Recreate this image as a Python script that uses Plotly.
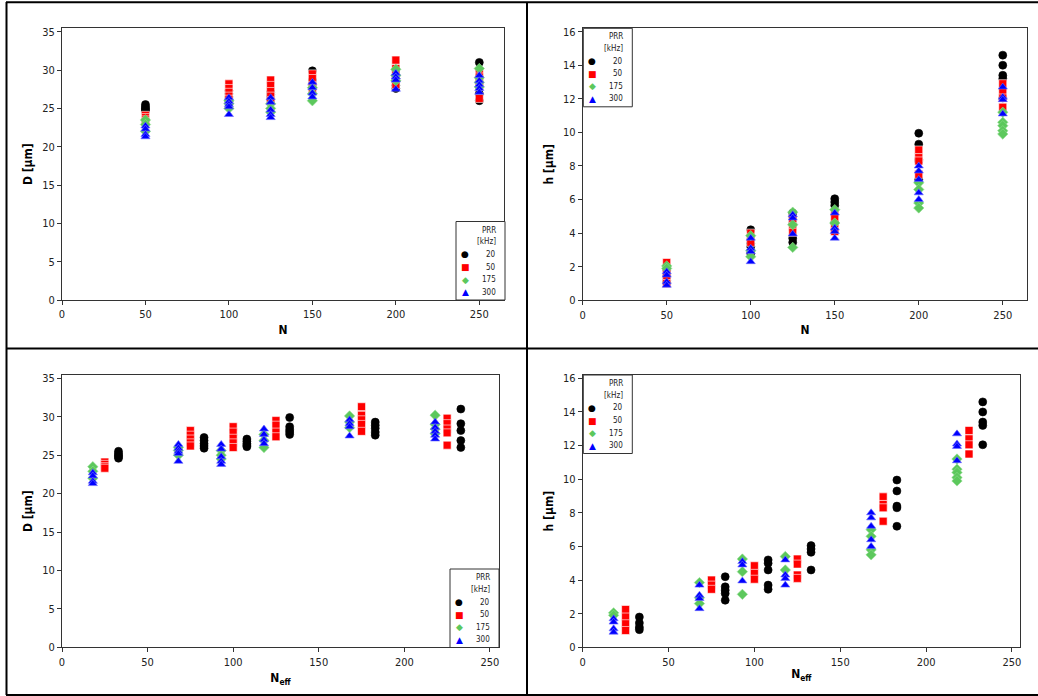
import plotly.graph_objects as go

# ---------------------------------------------------------------------------
# Measured crater diameter D and depth h versus pulse number N (and the
# effective pulse number N_eff) for four pulse repetition rates (PRR, kHz).
# Each inner list holds the repeated measurements at one N.
# ---------------------------------------------------------------------------
N_VALUES = [50, 100, 125, 150, 200, 250]
PRR_KHZ = [20, 50, 175, 300]

NEFF_20 = [33, 83, 108, 133, 183, 233]
NEFF_50 = [25, 75, 100, 125, 175, 225]
NEFF_175 = [18, 68, 93, 118, 168, 218]
NEFF_300 = [18, 68, 93, 118, 168, 218]

D_20 = [
    [25.5, 25.2, 25.0, 24.8, 24.6],
    [27.3, 26.9, 26.5, 26.2, 25.9],
    [27.1, 26.8, 26.5, 26.3, 26.1],
    [29.9, 28.7, 28.3, 28.0, 27.7],
    [29.3, 28.9, 28.5, 28.0, 27.6],
    [31.0, 29.1, 28.2, 26.9, 26.0],
]
D_50 = [
    [24.1, 23.8, 23.5, 23.3],
    [28.2, 27.6, 27.1, 26.6, 26.2],
    [28.7, 28.0, 27.2, 26.6, 26.0],
    [29.5, 28.9, 28.0, 27.4],
    [31.3, 30.2, 29.6, 29.0, 28.1],
    [29.8, 29.1, 28.4, 27.9, 26.3],
]
D_175 = [
    [23.5, 22.9, 22.0],
    [26.0, 25.6, 25.0],
    [25.6, 25.0, 24.5],
    [27.7, 26.9, 26.0],
    [30.1, 29.3, 28.6],
    [30.2, 29.0, 28.4, 27.8],
]
D_300 = [
    [22.7, 22.3, 21.6, 21.3],
    [26.4, 25.9, 25.5, 25.2, 24.2],
    [26.4, 25.8, 24.8, 24.2, 23.8],
    [28.4, 27.7, 27.0, 26.5],
    [29.6, 29.1, 28.7, 27.5],
    [29.3, 28.6, 28.1, 27.6, 27.1],
]

H_20 = [
    [1.8, 1.45, 1.2, 1.05],
    [4.2, 3.6, 3.4, 3.2, 2.8],
    [5.2, 5.0, 4.6, 3.7, 3.45],
    [6.05, 5.85, 5.65, 4.6],
    [9.95, 9.3, 8.4, 8.3, 7.2],
    [14.6, 14.0, 13.4, 13.2, 12.05],
]
H_50 = [
    [2.25, 1.8, 1.4, 1.0],
    [4.0, 3.7, 3.45],
    [4.85, 4.4, 4.05],
    [5.25, 4.95, 4.3, 4.1],
    [8.95, 8.5, 8.3, 7.5],
    [12.9, 12.4, 12.05, 11.5],
]
H_175 = [
    [2.05, 1.9],
    [3.85, 2.95, 2.6],
    [5.25, 4.5, 3.15],
    [5.4, 4.6],
    [7.0, 6.6, 5.8, 5.5],
    [11.2, 10.6, 10.4, 10.1, 9.9],
]
H_300 = [
    [1.7, 1.5, 1.1, 0.9],
    [3.7, 3.1, 2.9, 2.3],
    [5.1, 4.9, 3.95],
    [5.2, 4.3, 4.1, 3.7],
    [8.0, 7.7, 7.2, 6.4, 6.0],
    [12.7, 12.1, 11.95, 11.1],
]

# ---------------------------------------------------------------------------
# Styling
# ---------------------------------------------------------------------------
W, H = 1038, 696
FONT = "DejaVu Sans Condensed, Liberation Sans, Arial, sans-serif"
TEXT_COLOR = "#222222"

SERIES = [
    dict(prr=PRR_KHZ[0], color="#000000", symbol="circle", glyph="\u25CF",
         neff=NEFF_20, d=D_20, h=H_20, line="#000000"),
    dict(prr=PRR_KHZ[1], color="#ff0000", symbol="square", glyph="\u25A0",
         neff=NEFF_50, d=D_50, h=H_50, line="#ffffff"),
    dict(prr=PRR_KHZ[2], color="#5cc85c", symbol="diamond", glyph="\u25C6",
         neff=NEFF_175, d=D_175, h=H_175, line="#8fdc8f"),
    dict(prr=PRR_KHZ[3], color="#0000ff", symbol="triangle-up", glyph="\u25B2",
         neff=NEFF_300, d=D_300, h=H_300, line="#6f6fff"),
]


def px_x(x):
    return x / W


def px_y(y):
    return 1 - y / H


def expand(positions, groups):
    """Repeat each x position once per measurement in its group."""
    xs, ys = [], []
    for pos, vals in zip(positions, groups):
        xs.extend([pos] * len(vals))
        ys.extend(vals)
    return xs, ys


fig = go.Figure()

# panel id -> (x source, y source)
PANELS = [
    ("", "n", "d"),
    ("2", "n", "h"),
    ("3", "neff", "d"),
    ("4", "neff", "h"),
]

for s in SERIES:
    for ax, xkey, ykey in PANELS:
        positions = N_VALUES if xkey == "n" else s["neff"]
        xs, ys = expand(positions, s[ykey])
        fig.add_trace(go.Scatter(
            x=xs, y=ys, mode="markers",
            name=str(s["prr"]), showlegend=False,
            xaxis="x" + ax, yaxis="y" + ax,
            marker=dict(symbol=s["symbol"], color=s["color"], size=8,
                        line=dict(color=s["line"], width=0.6)),
        ))

# Plot-area boxes in pixels: (left, top, right, bottom)
AREAS = {
    "": (62, 28.3, 504, 300),
    "2": (582.7, 28.3, 1027.3, 300.3),
    "3": (62, 375, 499, 647.3),
    "4": (582.7, 375, 1020, 647.3),
}
X_RANGES = {"": [0, 264.8], "2": [0, 264.6], "3": [0, 255.3], "4": [0, 254.7]}
Y_RANGES = {"": [0, 35.45], "2": [0, 16.2], "3": [0, 35.43], "4": [0, 16.2]}
Y_DTICK = {"": 5, "2": 2, "3": 5, "4": 2}
X_TITLES = {"": "N", "2": "N",
            "3": "N<sub>eff</sub>", "4": "N<sub>eff</sub>"}
Y_TITLES = {"": "D [µm]", "2": "h [µm]",
            "3": "D [µm]", "4": "h [µm]"}
X_STANDOFF = {"": 5, "2": 5, "3": 6, "4": 2}

axis_common = dict(
    showline=True, linecolor="#333333", linewidth=1, mirror=True,
    ticks="outside", ticklen=4, tickcolor="#333333", tickwidth=1,
    showgrid=False, zeroline=False,
    tickfont=dict(family=FONT, size=11, color=TEXT_COLOR),
)
title_font = dict(family=FONT, size=12, color="#000000", weight="bold")

layout_axes = {}
for ax, (l, t, r, b) in AREAS.items():
    layout_axes["xaxis" + ax] = dict(
        axis_common,
        domain=[px_x(l), px_x(r)],
        anchor="y" + ax,
        range=X_RANGES[ax], dtick=50, tick0=0,
        title=dict(text=X_TITLES[ax], standoff=X_STANDOFF[ax], font=title_font),
    )
    layout_axes["yaxis" + ax] = dict(
        axis_common,
        domain=[px_y(b), px_y(t)],
        anchor="x" + ax,
        range=Y_RANGES[ax], dtick=Y_DTICK[ax], tick0=0,
        title=dict(text=Y_TITLES[ax], standoff=6, font=title_font),
    )

fig.update_layout(**layout_axes)

shapes = []
annotations = []

# Legend boxes (left, top) in pixels, each 49 x 78.5
LEGEND_BOXES = [(456, 221.5), (583.3, 28.3), (450, 569), (583.3, 375)]
LEG_W, LEG_H = 49, 78.5
for (bx, by) in LEGEND_BOXES:
    shapes.append(dict(
        type="rect", xref="paper", yref="paper",
        x0=px_x(bx), x1=px_x(bx + LEG_W), y0=px_y(by + LEG_H), y1=px_y(by),
        line=dict(color="#333333", width=1), fillcolor="#ffffff", layer="above",
    ))
    text_right = bx + LEG_W - 7
    for label, dy in (("PRR", 8.5), ("[kHz]", 20.5)):
        annotations.append(dict(
            text=label, xref="paper", yref="paper",
            x=px_x(text_right), y=px_y(by + dy),
            xanchor="right", yanchor="middle", showarrow=False,
            font=dict(family=FONT, size=8, color=TEXT_COLOR),
        ))
    for i, s in enumerate(SERIES):
        dy = 33 + 12.5 * i
        annotations.append(dict(
            text=s["glyph"], xref="paper", yref="paper",
            x=px_x(bx + 9), y=px_y(by + dy),
            xanchor="center", yanchor="middle", showarrow=False,
            font=dict(family="DejaVu Sans", size=9, color=s["color"]),
        ))
        annotations.append(dict(
            text=str(s["prr"]), xref="paper", yref="paper",
            x=px_x(text_right), y=px_y(by + dy),
            xanchor="right", yanchor="middle", showarrow=False,
            font=dict(family=FONT, size=8, color=TEXT_COLOR),
        ))

# Outer frame and panel dividers
FRAME = [
    (6, 2.3, 1038, 2.3),
    (6.5, 2, 6.5, 695),
    (6, 695, 1038, 695),
    (527, 2, 527, 695),
    (6, 348.5, 1038, 348.5),
]
for x0, y0, x1, y1 in FRAME:
    shapes.append(dict(
        type="line", xref="paper", yref="paper",
        x0=px_x(x0), y0=px_y(y0), x1=px_x(x1), y1=px_y(y1),
        line=dict(color="#000000", width=2), layer="above",
    ))

fig.update_layout(
    width=W, height=H,
    margin=dict(l=0, r=0, t=0, b=0),
    template="none",
    paper_bgcolor="#ffffff", plot_bgcolor="#ffffff",
    font=dict(family=FONT, size=11, color=TEXT_COLOR),
    showlegend=False,
    shapes=shapes,
    annotations=annotations,
)

fig.write_html("out.html")
